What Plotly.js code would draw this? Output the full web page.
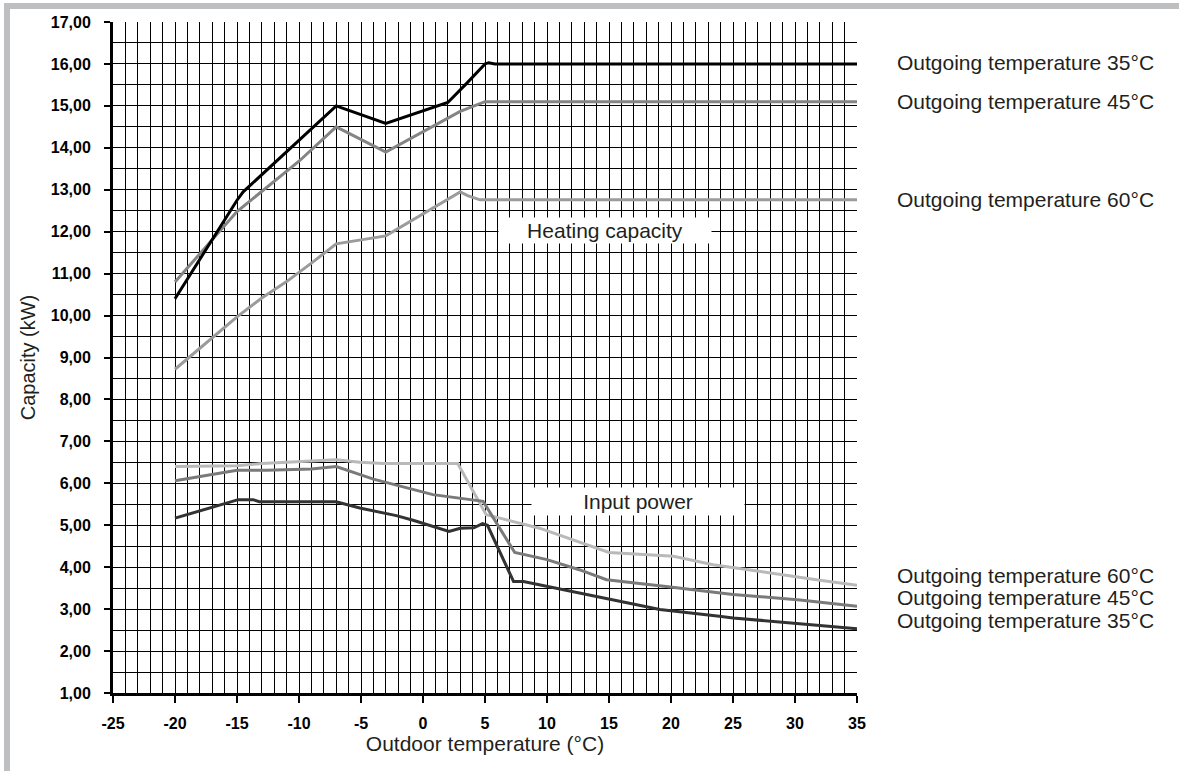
<!DOCTYPE html>
<html>
<head>
<meta charset="utf-8">
<script src="https://cdn.plot.ly/plotly-3.0.1.min.js"></script>
<style>
  html, body { margin: 0; padding: 0; background: #fff; }
  #wrap { position: relative; width: 1179px; height: 771px; }
  #chart { position: absolute; left: 0; top: 0; width: 1179px; height: 771px; }
  #frame { position: absolute; left: 4px; top: 3px; width: 1175px; height: 768px;
           border-top: 6px solid #bdbfc1; border-left: 6px solid #bdbfc1;
           box-sizing: border-box; pointer-events: none; }
</style>
</head>
<body>
<div id="wrap">
  <div id="chart"></div>
  <div id="frame"></div>
</div>
<script>
// Heating capacity (kW)
const heat35X = [-20, -15, -14.5, -7, -3, 2, 3.5, 5, 5.3, 5.8, 35];
const heat35Y = [10.4, 12.75, 12.95, 15.0, 14.58, 15.08, 15.53, 16.0, 16.03, 16.0, 16.0];
const heat45X = [-20, -15, -10, -7, -3, 3, 5, 35];
const heat45Y = [10.8, 12.48, 13.68, 14.5, 13.9, 14.87, 15.1, 15.1];
const heat60X = [-20, -17, -15, -13, -11, -9, -7, -3, 3, 3.6, 4.6, 35];
const heat60Y = [8.72, 9.47, 9.97, 10.42, 10.81, 11.25, 11.71, 11.9, 12.95, 12.86, 12.76, 12.76];

// Input power (kW)
const pow60X = [-20, -15, -13, -7, -5.1, -3.2, 2.8, 5.1, 6.2, 9.4, 15, 20.2, 23.4, 27.7, 32, 35];
const pow60Y = [6.4, 6.42, 6.47, 6.56, 6.5, 6.47, 6.47, 5.25, 5.17, 4.93, 4.35, 4.26, 4.06, 3.87, 3.69, 3.57];
const pow45X = [-20, -15, -12.6, -9, -7, -4, 0.8, 4, 4.85, 7.4, 10, 12.6, 14.8, 19.6, 25, 30.4, 35];
const pow45Y = [6.06, 6.31, 6.31, 6.34, 6.4, 6.1, 5.73, 5.61, 5.57, 4.35, 4.18, 3.94, 3.70, 3.54, 3.35, 3.22, 3.07];
const pow35X = [-20, -17.2, -14.9, -13.7, -13.2, -7, -5.1, -2.15, -0.8, 2.1, 3, 4.1, 4.8, 5.2, 7.3, 8.1, 12.1, 15, 19.1, 23.9, 25, 32, 35];
const pow35Y = [5.17, 5.41, 5.61, 5.61, 5.56, 5.56, 5.41, 5.23, 5.12, 4.85, 4.93, 4.94, 5.04, 5.0, 3.66, 3.66, 3.42, 3.24, 2.99, 2.83, 2.79, 2.61, 2.53];

// Tick labels
const xTickVals = [-25, -20, -15, -10, -5, 0, 5, 10, 15, 20, 25, 30, 35];
const xTickText = ["-25", "-20", "-15", "-10", "-5", "0", "5", "10", "15", "20", "25", "30", "35"];

// Texts
const xTitle = "Outdoor temperature (°C)";
const yTitle = "Capacity (kW)";
const heatLabel = "Heating capacity";
const powerLabel = "Input power";
const rightLabels = ["Outgoing temperature 35°C", "Outgoing temperature 45°C", "Outgoing temperature 60°C",
                     "Outgoing temperature 60°C", "Outgoing temperature 45°C", "Outgoing temperature 35°C"];
const rightLabelY = [16.03, 15.1, 12.77, 3.8, 3.27, 2.73];

const FONT = "Liberation Sans, Arial, Helvetica, sans-serif";
const TXT = "#231f20";

function line(x, y, color) {
  return { x: x, y: y, type: "scatter", mode: "lines", hoverinfo: "skip",
           line: { color: color, width: 3, shape: "linear" }, showlegend: false };
}

const traces = [
  line(pow60X, pow60Y, "#b9b9b9"),
  line(pow45X, pow45Y, "#7a7a7a"),
  line(pow35X, pow35Y, "#333333"),
  line(heat60X, heat60Y, "#9b9b9b"),
  line(heat45X, heat45Y, "#848484"),
  line(heat35X, heat35Y, "#000000")
];

const annotations = [
  { x: 14.65, y: 12.02, xref: "x", yref: "y", text: heatLabel, showarrow: false,
    bgcolor: "#ffffff", width: 210, height: 23, font: { family: FONT, size: 21, color: TXT } },
  { x: 17.3, y: 5.56, xref: "x", yref: "y", text: powerLabel, showarrow: false,
    bgcolor: "#ffffff", width: 210, height: 25, font: { family: FONT, size: 21, color: TXT } }
];
const labelX = (895 - 113) / 744;
rightLabels.forEach(function (t, i) {
  annotations.push({ x: labelX, y: rightLabelY[i], xref: "paper", yref: "y", text: t,
    showarrow: false, xanchor: "left", yanchor: "middle",
    font: { family: FONT, size: 21, color: TXT } });
});

const layout = {
  width: 1179, height: 771,
  margin: { l: 113, r: 322, t: 22, b: 78 },
  paper_bgcolor: "#ffffff", plot_bgcolor: "#ffffff",
  separators: ",.",
  font: { family: FONT, color: TXT },
  showlegend: false,
  xaxis: {
    range: [-25, 35], tickmode: "array", tickvals: xTickVals, ticktext: xTickText,
    showgrid: true, gridcolor: "#000000", gridwidth: 1, zeroline: false,
    showline: true, linecolor: "#000000", linewidth: 3,
    ticks: "outside", ticklen: 7, tickwidth: 2, tickcolor: "#000000",
    ticklabelstandoff: 7,
    tickfont: { family: FONT, size: 16, weight: "bold", color: "#000000" },
    minor: { dtick: 1, tick0: -25, showgrid: true, gridcolor: "#000000", gridwidth: 1, ticks: "" },
    title: { text: xTitle, standoff: 6, font: { family: FONT, size: 21, color: TXT } },
    fixedrange: true
  },
  yaxis: {
    range: [1, 17], tickmode: "linear", tick0: 1, dtick: 1, tickformat: ".2f",
    showgrid: true, gridcolor: "#000000", gridwidth: 1, zeroline: false,
    showline: true, linecolor: "#000000", linewidth: 3,
    ticks: "outside", ticklen: 6, tickwidth: 2, tickcolor: "#000000",
    ticklabelstandoff: 10,
    tickfont: { family: FONT, size: 16, weight: "bold", color: "#000000" },
    minor: { dtick: 0.5, showgrid: true, gridcolor: "#000000", gridwidth: 1, ticks: "" },
    title: { text: yTitle, standoff: 10, font: { family: FONT, size: 20, color: TXT } },
    fixedrange: true
  },
  annotations: annotations
};

Plotly.newPlot("chart", traces, layout, { displayModeBar: false, staticPlot: true });
</script>
</body>
</html>
